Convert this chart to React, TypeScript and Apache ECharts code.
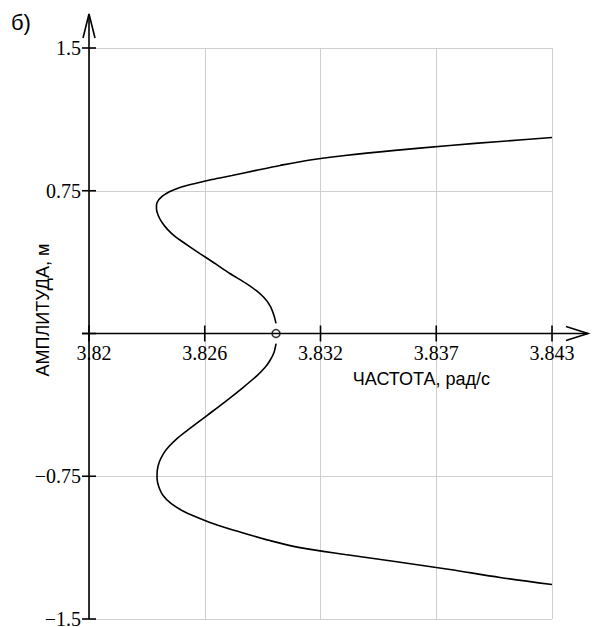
import React, { useEffect, useRef } from "react";
import * as echarts from "echarts";

const xMin = 3.82;
const xMax = 3.843;
const xStep = 0.00575;
const yMin = -1.5;
const yMax = 1.5;
const yStep = 0.75;
const xTickLabels = ["3.82", "3.826", "3.832", "3.837", "3.843"];
const yTickLabels = ["\u22121.5", "\u22120.75", "", "0.75", "1.5"];

const upperX = [3.82929, 3.82919, 3.82899, 3.82869, 3.8283, 3.8278, 3.827, 3.82626, 3.82551, 3.82477, 3.82427, 3.8239, 3.82363, 3.82344, 3.82335, 3.82338, 3.82363, 3.82402, 3.82452, 3.82527, 3.82611, 3.8271, 3.8283, 3.82949, 3.83083, 3.83272, 3.8352, 3.83793, 3.84042, 3.843];
const upperY = [0.053, 0.095, 0.147, 0.189, 0.226, 0.263, 0.315, 0.368, 0.42, 0.473, 0.51, 0.547, 0.583, 0.62, 0.657, 0.688, 0.72, 0.746, 0.767, 0.788, 0.809, 0.83, 0.857, 0.883, 0.909, 0.935, 0.962, 0.988, 1.009, 1.03];
const lowerX = [3.82929, 3.82919, 3.82899, 3.82874, 3.82835, 3.82765, 3.82671, 3.82586, 3.82487, 3.82437, 3.82397, 3.8237, 3.8235, 3.82339, 3.82338, 3.82348, 3.82368, 3.82407, 3.82462, 3.82527, 3.82601, 3.82691, 3.82775, 3.82899, 3.83048, 3.83272, 3.8352, 3.83793, 3.84042, 3.843];
const lowerY = [-0.053, -0.1, -0.142, -0.179, -0.221, -0.284, -0.363, -0.431, -0.51, -0.552, -0.594, -0.631, -0.673, -0.72, -0.762, -0.809, -0.851, -0.893, -0.93, -0.962, -0.993, -1.025, -1.051, -1.088, -1.125, -1.161, -1.198, -1.24, -1.282, -1.319];
const bifurcationPoint = [3.82929, 0];

const xTickValues = xTickLabels.map((_, i) => xMin + i * xStep);
const yTickValues = yTickLabels.map((_, i) => yMin + i * yStep);

export default function App() {
  const ref = useRef<HTMLDivElement>(null);
  useEffect(() => {
    if (!ref.current) return;
    const chart = echarts.init(ref.current, null, { renderer: "svg" });
    const serif = "'Liberation Serif', 'Times New Roman', serif";
    const sans = "'Liberation Sans', Arial, sans-serif";
    chart.setOption({
      animation: false,
      backgroundColor: "#ffffff",
      grid: { left: 89, right: 47, top: 48, bottom: 8, containLabel: false, outerBoundsMode: "none" },
      xAxis: {
        type: "value",
        min: xMin,
        max: xMax,
        interval: xStep,
        axisLine: { show: false, onZero: true },
        axisTick: { show: false },
        splitLine: { show: true, lineStyle: { color: "#cfcfcf", width: 1 } },
        axisLabel: { show: false },
      },
      yAxis: {
        type: "value",
        min: yMin,
        max: yMax,
        interval: yStep,
        axisLine: { show: false },
        axisTick: { show: false },
        splitLine: { show: true, lineStyle: { color: "#cfcfcf", width: 1 } },
        axisLabel: {
          margin: 8,
          color: "#000",
          fontFamily: serif,
          fontSize: 20,
          padding: [5, 0, 0, 0],
          formatter: (v: number) => yTickLabels[Math.round((v - yMin) / yStep)] ?? "",
        },
      },
      series: [
        {
          type: "line",
          data: upperX.map((x, i) => [x, upperY[i]]),
          showSymbol: false,
          smooth: 0.3,
          lineStyle: { color: "#000", width: 1.6 },
          z: 3,
        },
        {
          type: "line",
          data: lowerX.map((x, i) => [x, lowerY[i]]),
          showSymbol: false,
          smooth: 0.3,
          lineStyle: { color: "#000", width: 1.6 },
          z: 3,
        },
        {
          type: "scatter",
          data: [bifurcationPoint],
          symbol: "circle",
          symbolSize: 8,
          itemStyle: { color: "#fff", borderColor: "#000", borderWidth: 1.5 },
          z: 5,
        },
      ],
    });

    const px = (x: number, y: number) => chart.convertToPixel({ gridIndex: 0 }, [x, y]) as number[];
    const origin = px(xMin, 0);
    const top = px(xMin, yMax);
    const bottom = px(xMin, yMin);
    const right = px(xMax, 0);
    const yTip = top[1] - 34;
    const xTip = right[0] + 36;
    const stroke = { stroke: "#000", lineWidth: 1.6, fill: "none" };
    const graphics: any[] = [
      { type: "polyline", shape: { points: [[bottom[0], bottom[1]], [top[0], yTip]] }, style: stroke, z: 10 },
      { type: "polyline", shape: { points: [[top[0] - 6, yTip + 24], [top[0], yTip], [top[0] + 6, yTip + 24]] }, style: stroke, z: 10 },
      { type: "polyline", shape: { points: [[origin[0] - 7, origin[1]], [xTip, origin[1]]] }, style: stroke, z: 10 },
      { type: "polyline", shape: { points: [[xTip - 22, origin[1] - 7], [xTip, origin[1]], [xTip - 22, origin[1] + 7]] }, style: stroke, z: 10 },
    ];
    xTickValues.forEach((v, i) => {
      const p = px(v, 0);
      graphics.push({ type: "line", shape: { x1: p[0], y1: p[1] - 8, x2: p[0], y2: p[1] + 8 }, style: { stroke: "#000", lineWidth: 1.6 }, z: 10 });
      graphics.push({
        type: "text",
        x: p[0] + (i === 0 ? 5 : 0),
        y: p[1] + 9,
        style: { text: xTickLabels[i], fontFamily: serif, fontSize: 20, fill: "#000", align: "center", verticalAlign: "top" },
        z: 10,
      });
    });
    yTickValues.forEach((v) => {
      const p = px(xMin, v);
      graphics.push({ type: "line", shape: { x1: p[0] - 7, y1: p[1], x2: p[0] + 7, y2: p[1] }, style: { stroke: "#000", lineWidth: 1.6 }, z: 10 });
    });
    graphics.push(
      { type: "text", x: 11, y: 11, style: { text: "б)", fontFamily: sans, fontSize: 22, fill: "#000" }, z: 10 },
      { type: "text", x: 490, y: 379, style: { text: "ЧАСТОТА, рад/с", fontFamily: sans, fontSize: 18, fill: "#000", align: "right", verticalAlign: "middle" }, z: 10 },
      { type: "text", x: 43, y: 310, rotation: Math.PI / 2, style: { text: "АМПЛИТУДА, м", fontFamily: sans, fontSize: 18, fill: "#000", align: "center", verticalAlign: "middle" }, z: 10 }
    );
    chart.setOption({ graphic: graphics });
    return () => chart.dispose();
  }, []);
  return <div ref={ref} style={{ position: "fixed", left: 0, top: 0, width: 599, height: 627 }} />;
}
